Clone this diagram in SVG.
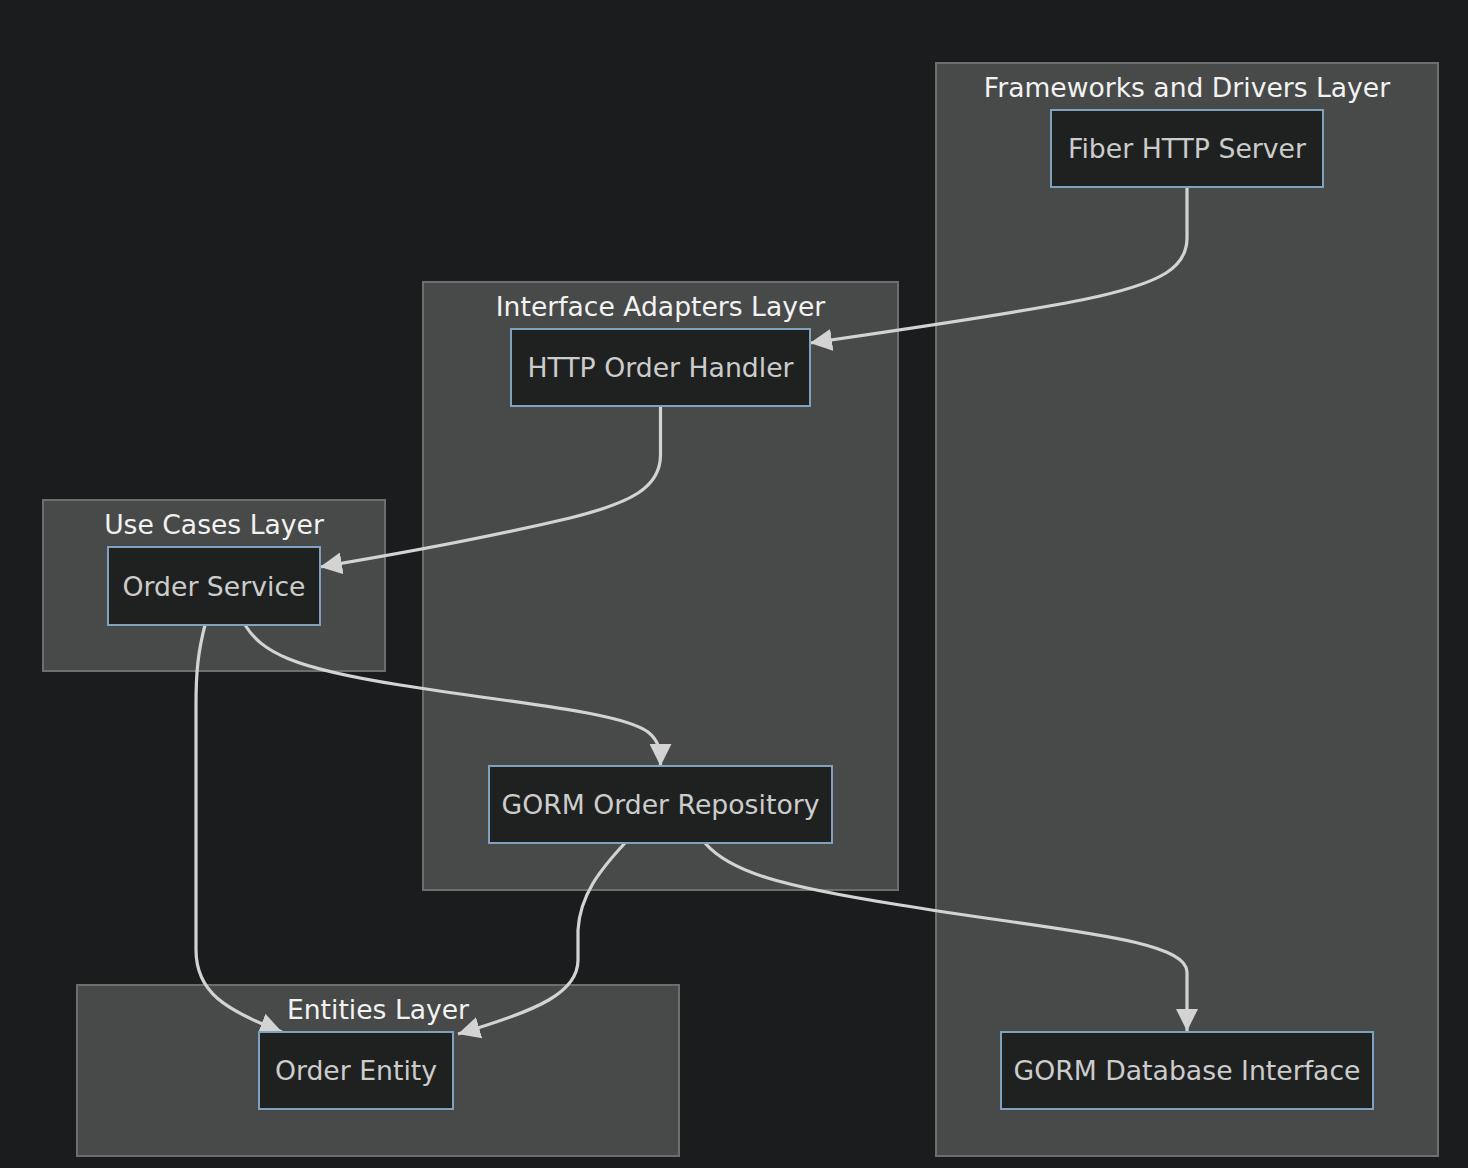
<svg xmlns="http://www.w3.org/2000/svg" width="1468" height="1168" viewBox="0 0 1468 1168">
<defs>
<style>
.cluster rect{fill:#484a49;stroke:#6e6e6e;stroke-width:2}
.cluster text{fill:#f2f2f2;font-family:"DejaVu Sans",sans-serif;font-size:26.6px;text-anchor:middle}
.node rect{fill:#1f2120;stroke:#81a1c1;stroke-width:2}
.node text{fill:#cccccc;font-family:"DejaVu Sans",sans-serif;font-size:26.7px;text-anchor:middle;dominant-baseline:central}
.edge{fill:none;stroke:#d3d3d3;stroke-width:3.2;marker-end:url(#arrow)}
</style>
<marker id="arrow" viewBox="0 0 10 10" refX="10" refY="5" markerUnits="userSpaceOnUse" markerWidth="22" markerHeight="22" orient="auto">
<path d="M0,0 L10,5 L0,10 z" fill="#d3d3d3"/>
</marker>
</defs>
<rect width="1468" height="1168" fill="#1b1c1e"/>
<g id="cluster-frameworks" class="cluster"><rect x="936" y="63" width="502" height="1093"/><text x="1187" y="97">Frameworks and Drivers Layer</text></g>
<g id="cluster-adapters" class="cluster"><rect x="423" y="282" width="475" height="608"/><text x="660.5" y="316">Interface Adapters Layer</text></g>
<g id="cluster-usecases" class="cluster"><rect x="43" y="500" width="342" height="171"/><text x="214" y="534">Use Cases Layer</text></g>
<g id="cluster-entities" class="cluster"><rect x="77" y="985" width="602" height="171"/><text x="378" y="1019">Entities Layer</text></g>
<g id="edges">
<path class="edge" d="M1187,187 L1187,238 C1187,268 1160,282 1100,296 C1040,310 900,330 810,343"/>
<path class="edge" d="M660.5,406 L660.5,455 C660.5,488 630,503 570,518 C490,537 410,552 320,567"/>
<path class="edge" d="M245,625 C262,652 292,668 400,685 C520,704 620,712 648,732 C658,740 660.5,748 660.5,766"/>
<path class="edge" d="M205,625 C198,652 196,672 196,705 L196,950 C196,992 225,1010 282,1032"/>
<path class="edge" d="M625,843 C600,870 580,895 578,930 L578,960 C578,992 540,1010 458,1034"/>
<path class="edge" d="M705,843 C730,872 780,886 900,905 C1050,930 1187,938 1187,972 L1187,1031"/>
</g>
<g id="node-fiber" class="node"><rect x="1051" y="110" width="272" height="77"/><text x="1187" y="148.5">Fiber HTTP Server</text></g>
<g id="node-handler" class="node"><rect x="511" y="329" width="299" height="77"/><text x="660.5" y="367.5">HTTP Order Handler</text></g>
<g id="node-repo" class="node"><rect x="489" y="766" width="343" height="77"/><text x="660.5" y="804.5">GORM Order Repository</text></g>
<g id="node-service" class="node"><rect x="108" y="547" width="212" height="78"/><text x="214" y="586">Order Service</text></g>
<g id="node-entity" class="node"><rect x="259" y="1032" width="194" height="77"/><text x="356" y="1070.5">Order Entity</text></g>
<g id="node-gormdb" class="node"><rect x="1001" y="1032" width="372" height="77"/><text x="1187" y="1070.5">GORM Database Interface</text></g>
</svg>
